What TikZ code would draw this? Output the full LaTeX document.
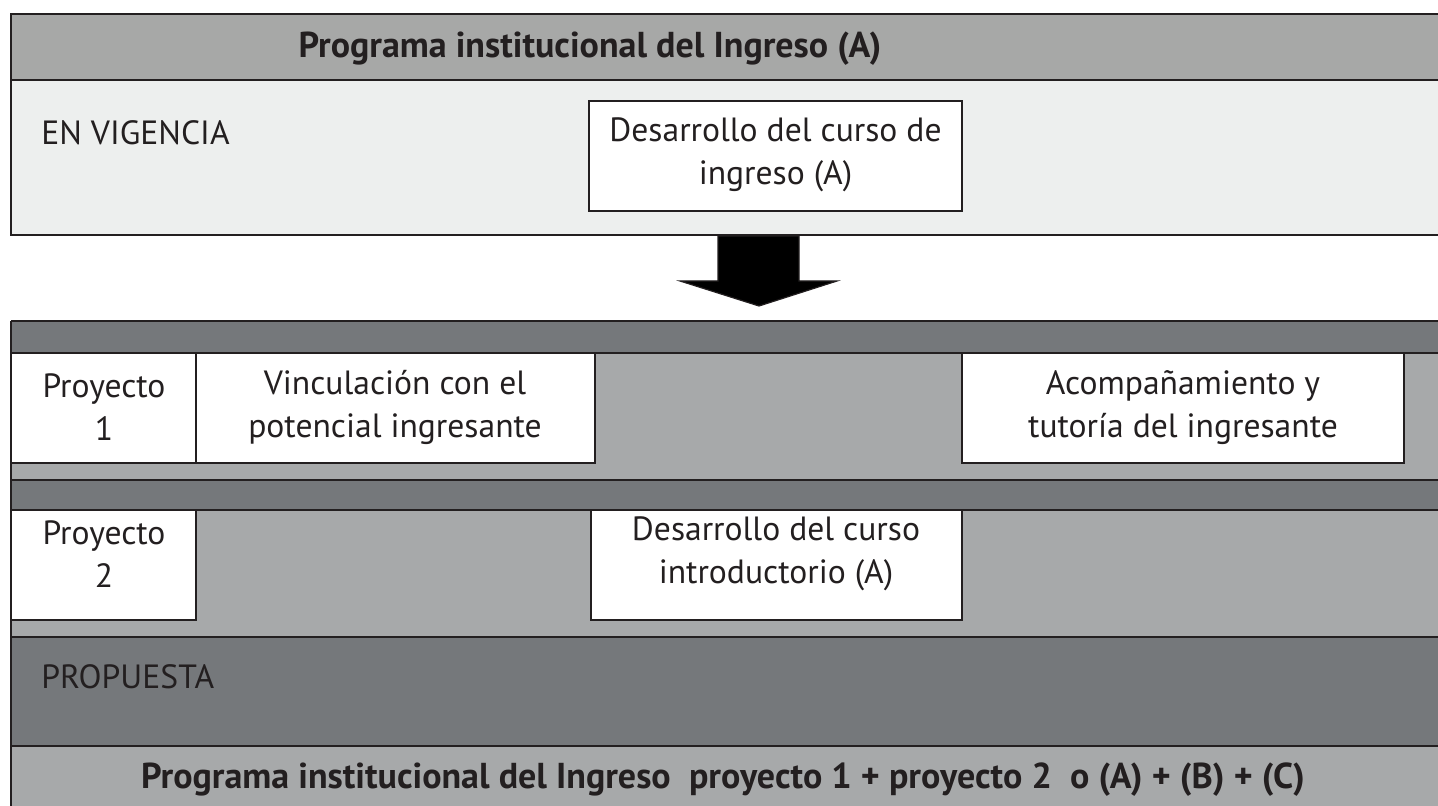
\documentclass[tikz,border=0pt]{standalone}
\usepackage{fontspec}
\setmainfont{PT Sans}
\definecolor{lineC}{HTML}{231F20}
\definecolor{darkG}{HTML}{75787B}
\definecolor{midG}{HTML}{A7A9AA}
\definecolor{hdrG}{HTML}{A7A8A7}
\definecolor{lightG}{HTML}{EDEFEE}
\begin{document}
\begin{tikzpicture}[x=0.5pt,y=-0.5pt,line width=1.4pt,
  band/.style={draw=lineC},
  wbox/.style={draw=lineC,fill=white},
  txt/.style={align=center,inner sep=0pt,text=lineC,font=\fontsize{16.8}{21.5}\selectfont},
  lbl/.style={inner sep=0pt,text=lineC,font=\fontsize{16.8}{21.5}\selectfont},
  ttl/.style={inner sep=0pt,text=lineC,font=\fontsize{18}{22}\selectfont\bfseries},
  bigarrow/.style={fill=black,draw=lineC,line width=0.6pt,line join=miter}]
\useasboundingbox (0,0) rectangle (1438,806);
\clip (0,0) rectangle (1438,806);
% ---------- top panel ----------
\draw[band,fill=hdrG] (11,14) rectangle (1460,80);
\draw[band,fill=lightG] (11,80) rectangle (1460,235);
\node[ttl,anchor=base] (title) at (590,58) {Programa institucional del Ingreso (A)};
\node[lbl,anchor=base west] (vig) at (40,145) {EN VIGENCIA};
\draw[wbox] (589,101) rectangle (962,211);
\node[txt] (cursoA) at (775.5,155) {Desarrollo del curso de\\ingreso (A)};
% ---------- arrow ----------
\draw[bigarrow] (718,236) -- (718,281) -- (680,281) -- (759,306) -- (837,281) -- (799,281) -- (799,236) -- cycle;
% ---------- bottom panel ----------
\fill[darkG] (11,321) rectangle (1460,353);
\fill[midG] (11,353) rectangle (1460,480);
\fill[darkG] (11,480) rectangle (1460,510);
\fill[midG] (11,510) rectangle (1460,637);
\fill[darkG] (11,637) rectangle (1460,746);
\fill[midG] (11,746) rectangle (1460,830);
\foreach \yy in {321,353,480,510,637,746} \draw[lineC] (11,\yy) -- (1460,\yy);
\draw[lineC] (11,321) -- (11,830);
% row 1
\draw[wbox] (11,353) rectangle (196,463);
\node[txt] (p1) at (104,407.5) {Proyecto\\1};
\draw[wbox] (196,353) rectangle (595,463);
\node[txt] (vinc) at (395,407.5) {Vinculación con el\\potencial ingresante};
\draw[wbox] (962,353) rectangle (1404,463);
\node[txt] (acomp) at (1183,407.5) {Acompañamiento y\\tutoría del ingresante};
% row 2
\draw[wbox] (11,510) rectangle (196,620);
\node[txt] (p2) at (104,554) {Proyecto\\2};
\draw[wbox] (591,510) rectangle (962,620);
\node[txt] (intro) at (776,554) {Desarrollo del curso\\introductorio (A)};
% labels
\node[lbl,anchor=base west] (prop) at (40,688) {PROPUESTA};
\node[ttl,anchor=base] (total) at (723,788) {Programa institucional del Ingreso\ \ proyecto 1 + proyecto 2\ \ o (A) + (B) + (C)};
\end{tikzpicture}
\end{document}
